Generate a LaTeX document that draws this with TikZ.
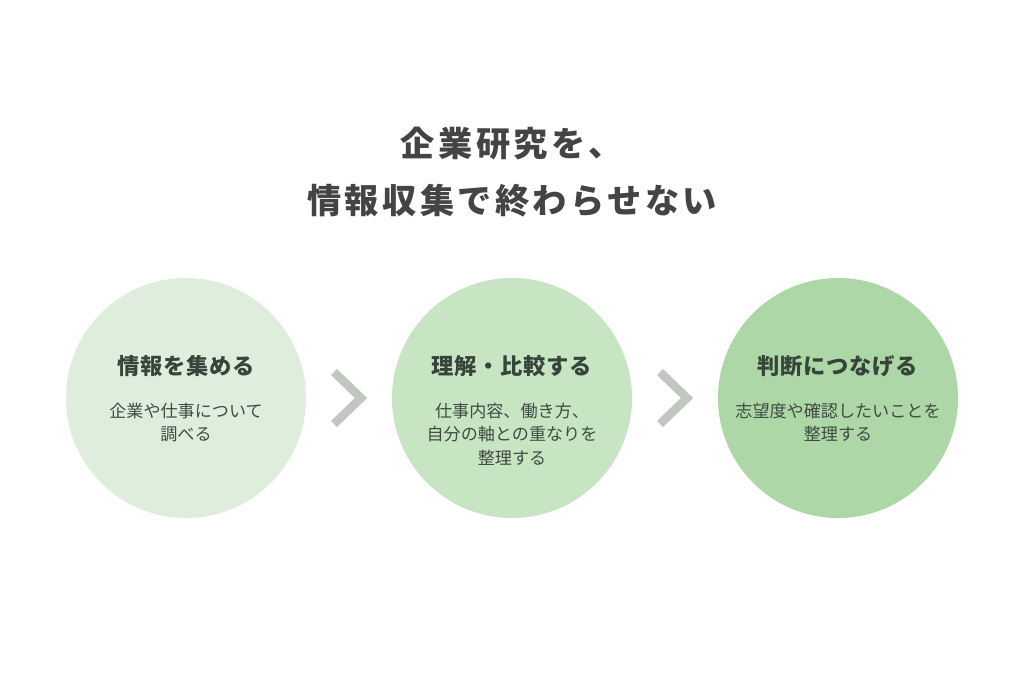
\documentclass[tikz,border=0pt]{standalone}
\usepackage{fontspec}
\setmainfont{Noto Sans CJK JP}
\newfontfamily\ttlfont{Noto Sans CJK JP}[LetterSpace=10]
\newfontfamily\hdfont{Noto Sans CJK JP}[LetterSpace=3]
\definecolor{cA}{HTML}{DFEEDC}
\definecolor{cB}{HTML}{C8E5C3}
\definecolor{cC}{HTML}{ADD7A6}
\definecolor{chev}{HTML}{C2C6C1}
\definecolor{ttl}{HTML}{444444}
\definecolor{hd}{HTML}{36443A}
\definecolor{bd}{HTML}{3E4A42}
\tikzset{
  stagecirc/.style={circle, minimum size=240pt, inner sep=0pt},
  stagehead/.style={font=\hdfont\bfseries\fontsize{22.3}{26}\selectfont, text=hd},
  stagebody/.style={font=\fontsize{17.1}{23.5}\selectfont, text=bd, align=center},
  titletext/.style={font=\ttlfont\bfseries\fontsize{34.2}{57}\selectfont, text=ttl, align=center},
  chevline/.style={draw=chev, line width=8.5pt, line cap=butt, line join=miter}
}
\begin{document}
\begin{tikzpicture}[x=1pt,y=-1pt]
\path[fill=white] (0,0) rectangle (1024,683);
\useasboundingbox (0,0) rectangle (1024,683);
\node[titletext] (title) at (512,172) {企業研究を、\\情報収集で終わらせない};
\node[stagecirc, fill=cA] (c1) at (186,398) {};
\node[stagecirc, fill=cB] (c2) at (512,398) {};
\node[stagecirc, fill=cC] (c3) at (838,398) {};
\node[stagehead] (h1) at (186,366) {情報を集める};
\node[stagehead] (h2) at (512,366) {理解・比較する};
\node[stagehead] (h3) at (838,366) {判断につなげる};
\node[stagebody, anchor=north] (b1) at (186,399.5) {企業や仕事について\\調べる};
\node[stagebody, anchor=north] (b2) at (512,399.5) {仕事内容、働き方、\\自分の軸との重なりを\\整理する};
\node[stagebody, anchor=north] (b3) at (838,399.5) {志望度や確認したいことを\\整理する};
\coordinate (k1a) at (334,372);
\coordinate (k1b) at (361,398);
\coordinate (k1c) at (334,424);
\draw[chevline] (k1a) -- (k1b) -- (k1c);
\coordinate (k2a) at (660,372);
\coordinate (k2b) at (687,398);
\coordinate (k2c) at (660,424);
\draw[chevline] (k2a) -- (k2b) -- (k2c);
\end{tikzpicture}
\end{document}
